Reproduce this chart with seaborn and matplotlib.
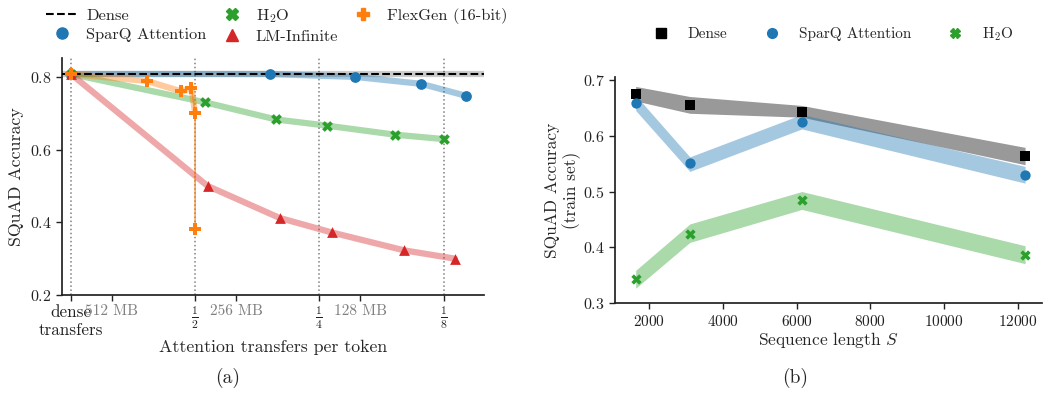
import numpy as np
import pandas as pd
import matplotlib
matplotlib.use("Agg")
import matplotlib.pyplot as plt
from matplotlib.lines import Line2D
import seaborn as sns

# ---------------- data: panel (a) ----------------
# x in log2 units of compression (0 = dense, 1 = 1/2, 2 = 1/4, 3 = 1/8)
dense_acc_a = 0.808
sparq_t = [0.0, 1.60, 2.29, 2.82, 3.18]
sparq_acc = [0.808, 0.808, 0.800, 0.781, 0.748]
h2o_t = [0.0, 1.08, 1.65, 2.06, 2.61, 3.00]
h2o_acc = [0.808, 0.730, 0.683, 0.666, 0.641, 0.629]
lm_t = [0.0, 1.10, 1.68, 2.10, 2.68, 3.09]
lm_acc = [0.808, 0.500, 0.412, 0.372, 0.323, 0.300]
flex_t = [0.0, 0.61, 0.89, 0.97, 1.00, 1.00]
flex_acc = [0.808, 0.789, 0.760, 0.769, 0.702, 0.381]
major_ticks = [0, 1, 2, 3]
major_labels = ["dense\ntransfers", r"$\frac{1}{2}$", r"$\frac{1}{4}$", r"$\frac{1}{8}$"]
minor_ticks = [0.33, 1.33, 2.33]
minor_labels = ["512 MB", "256 MB", "128 MB"]

# ---------------- data: panel (b) ----------------
seq_len = [1630, 3100, 6140, 12200]
dense_b = [0.674, 0.654, 0.642, 0.563]
dense_lo = [0.662, 0.640, 0.633, 0.548]
dense_hi = [0.688, 0.670, 0.654, 0.579]
sparq_b = [0.659, 0.551, 0.625, 0.530]
sparq_lo = [0.645, 0.536, 0.612, 0.515]
sparq_hi = [0.672, 0.562, 0.638, 0.545]
h2o_b = [0.343, 0.424, 0.485, 0.387]
h2o_lo = [0.327, 0.409, 0.468, 0.371]
h2o_hi = [0.359, 0.442, 0.500, 0.403]

sns.set_theme(style="ticks")
plt.rcParams.update({
    "font.family": "serif",
    "font.serif": ["cmr10", "DejaVu Serif"],
    "mathtext.fontset": "cm",
    "axes.formatter.use_mathtext": True,
    "font.size": 11,
    "axes.edgecolor": "#222222",
    "xtick.color": "#222222",
    "ytick.color": "#222222",
    "axes.unicode_minus": False,
})

C0, C1, C2, C3 = "#1f77b4", "#ff7f0e", "#2ca02c", "#d62728"
LW = 4.5
AL = 0.4

fig = plt.figure(figsize=(10.43, 3.93), dpi=100)
axa = fig.add_axes([0.0594, 0.2494, 0.4046, 0.603])
axb = fig.add_axes([0.5897, 0.2282, 0.409, 0.576])

# ---------------- panel (a) ----------------
for t in major_ticks:
    axa.axvline(t, color="gray", ls=":", lw=1.1, zorder=0)
axa.axhline(dense_acc_a, color="black", alpha=0.2, lw=LW, zorder=1)
axa.axhline(dense_acc_a, color="black", ls="--", lw=1.5, zorder=6)

sns.lineplot(x=sparq_t, y=sparq_acc, ax=axa, color=C0, alpha=AL, lw=LW,
             estimator=None, sort=False, zorder=2)
sns.lineplot(x=h2o_t, y=h2o_acc, ax=axa, color=C2, alpha=AL, lw=LW,
             estimator=None, sort=False, zorder=2)
sns.lineplot(x=lm_t, y=lm_acc, ax=axa, color=C3, alpha=AL, lw=LW,
             estimator=None, sort=False, zorder=2)
sns.lineplot(x=flex_t[:5], y=flex_acc[:5], ax=axa, color=C1, alpha=AL, lw=LW,
             estimator=None, sort=False, zorder=2)
sns.lineplot(x=flex_t[3:], y=flex_acc[3:], ax=axa, color=C1, alpha=0.7, lw=1.2,
             estimator=None, sort=False, zorder=2)

sns.scatterplot(x=sparq_t, y=sparq_acc, ax=axa, color=C0, marker="o", s=60, linewidth=0, zorder=7)
sns.scatterplot(x=h2o_t, y=h2o_acc, ax=axa, color=C2, marker="X", s=60, linewidth=0, zorder=7)
sns.scatterplot(x=lm_t, y=lm_acc, ax=axa, color=C3, marker="^", s=60, linewidth=0, zorder=7)
sns.scatterplot(x=flex_t, y=flex_acc, ax=axa, color=C1, marker="P", s=70, linewidth=0, zorder=8)

axa.set_xlim(-0.072, 3.325)
axa.set_ylim(0.2, 0.852)
axa.set_yticks([0.2, 0.4, 0.6, 0.8])
axa.set_xticks(major_ticks)
axa.set_xticklabels(major_labels)
for i, lab in enumerate(axa.get_xticklabels()):
    lab.set_fontsize(12 if i > 0 else 12.3)
axa.set_xticks(minor_ticks, minor=True)
axa.set_xticklabels(minor_labels, minor=True, color="gray")
axa.tick_params(axis="x", which="both", length=4, width=1, pad=3)
axa.tick_params(axis="y", length=4, width=1, labelsize=11.5)
axa.set_xlabel("Attention transfers per token", fontsize=12.8, labelpad=1)
axa.set_ylabel("SQuAD Accuracy", fontsize=12.8, labelpad=4)
sns.despine(ax=axa)

hand_a = [
    Line2D([], [], color="black", ls="--", lw=1.5),
    Line2D([], [], color=C0, marker="o", ls="none", markersize=8),
    Line2D([], [], color=C2, marker="X", ls="none", markersize=8),
    Line2D([], [], color=C3, marker="^", ls="none", markersize=8),
    Line2D([], [], color=C1, marker="P", ls="none", markersize=8),
]
lab_a = ["Dense", "SparQ Attention", r"H$_2$O", "LM-Infinite", "FlexGen (16-bit)"]
fig.legend(hand_a, lab_a, ncol=3, loc="upper left", bbox_to_anchor=(0.033, 1.012),
           frameon=False, handlelength=2.0, handletextpad=0.45, columnspacing=0.55,
           labelspacing=0.3, fontsize=11.8, borderpad=0.2)

# ---------------- panel (b) ----------------
axb.fill_between(seq_len, dense_lo, dense_hi, color="black", alpha=0.4, lw=0, zorder=1)
axb.fill_between(seq_len, sparq_lo, sparq_hi, color=C0, alpha=0.4, lw=0, zorder=2)
axb.fill_between(seq_len, h2o_lo, h2o_hi, color=C2, alpha=0.4, lw=0, zorder=2)

sns.scatterplot(x=seq_len, y=dense_b, ax=axb, color="black", marker="s", s=55, linewidth=0, zorder=5)
sns.scatterplot(x=seq_len, y=sparq_b, ax=axb, color=C0, marker="o", s=55, linewidth=0, zorder=5)
sns.scatterplot(x=seq_len, y=h2o_b, ax=axb, color=C2, marker="X", s=55, linewidth=0, zorder=5)

axb.set_xlim(1070, 12650)
axb.set_ylim(0.3, 0.705)
axb.set_xticks([2000, 4000, 6000, 8000, 10000, 12000])
axb.set_yticks([0.3, 0.4, 0.5, 0.6, 0.7])
axb.tick_params(length=4, width=1)
axb.tick_params(axis="y", labelsize=11.5)
axb.set_xlabel("Sequence length $S$", fontsize=12.5, labelpad=1)
axb.set_ylabel("SQuAD Accuracy\n(train set)", fontsize=12.5, labelpad=1)
sns.despine(ax=axb)

hand_b = [
    Line2D([], [], color="black", marker="s", ls="none", markersize=7),
    Line2D([], [], color=C0, marker="o", ls="none", markersize=7),
    Line2D([], [], color=C2, marker="X", ls="none", markersize=7),
]
lab_b = ["Dense", "SparQ Attention", r"H$_2$O"]
fig.legend(hand_b, lab_b, ncol=3, loc="center left", bbox_to_anchor=(0.606, 0.913),
           frameon=False, handlelength=2.0, handletextpad=0.75, columnspacing=1.9,
           fontsize=11)

fig.text(0.2186, 0.038, "(a)", ha="center", va="center", fontsize=14)
fig.text(0.7622, 0.038, "(b)", ha="center", va="center", fontsize=14)

fig.savefig("out.png", dpi=100)
